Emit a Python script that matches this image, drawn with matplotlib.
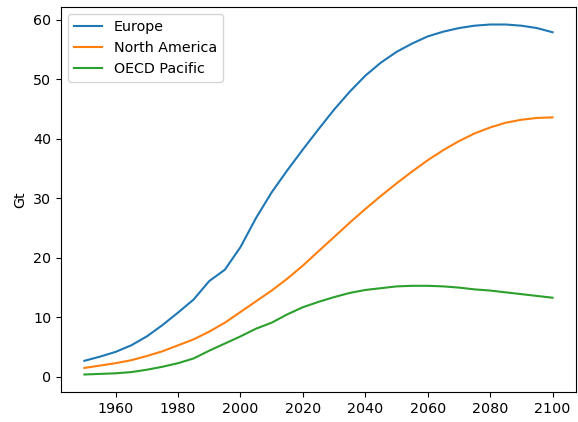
import matplotlib
matplotlib.use('Agg')
import matplotlib.pyplot as plt

plt.rcParams['font.size'] = 10.3

# Years (5-year steps)
years = list(range(1950, 2101, 5))

# Values in Gt
europe = [2.7, 3.4, 4.2, 5.3, 6.8, 8.7, 10.8, 13.0, 16.1, 18.0,
          21.8, 26.7, 31.0, 34.7, 38.2, 41.6, 44.9, 47.9, 50.6, 52.8,
          54.6, 56.0, 57.2, 58.0, 58.6, 59.0, 59.2, 59.2, 59.0, 58.6, 57.9]
north_america = [1.5, 1.9, 2.3, 2.8, 3.5, 4.3, 5.3, 6.3, 7.6, 9.1,
                 10.9, 12.7, 14.5, 16.5, 18.7, 21.1, 23.5, 25.9, 28.2, 30.4,
                 32.5, 34.5, 36.4, 38.1, 39.6, 40.9, 41.9, 42.7, 43.2, 43.5, 43.6]
oecd_pacific = [0.4, 0.5, 0.6, 0.8, 1.2, 1.7, 2.3, 3.1, 4.4, 5.6,
                6.8, 8.1, 9.1, 10.5, 11.7, 12.6, 13.4, 14.1, 14.6, 14.9,
                15.2, 15.3, 15.3, 15.2, 15.0, 14.7, 14.5, 14.2, 13.9, 13.6, 13.3]

fig, ax = plt.subplots(figsize=(5.78, 4.22), dpi=100)
ax.plot(years, europe, label='Europe')
ax.plot(years, north_america, label='North America')
ax.plot(years, oecd_pacific, label='OECD Pacific')

ax.set_ylabel('Gt')
ax.set_xticks([1960, 1980, 2000, 2020, 2040, 2060, 2080, 2100])
ax.legend(loc='upper left')

fig.subplots_adjust(left=0.1055, right=0.9965, top=0.9834, bottom=0.0711)
fig.savefig('out.png', dpi=100)
